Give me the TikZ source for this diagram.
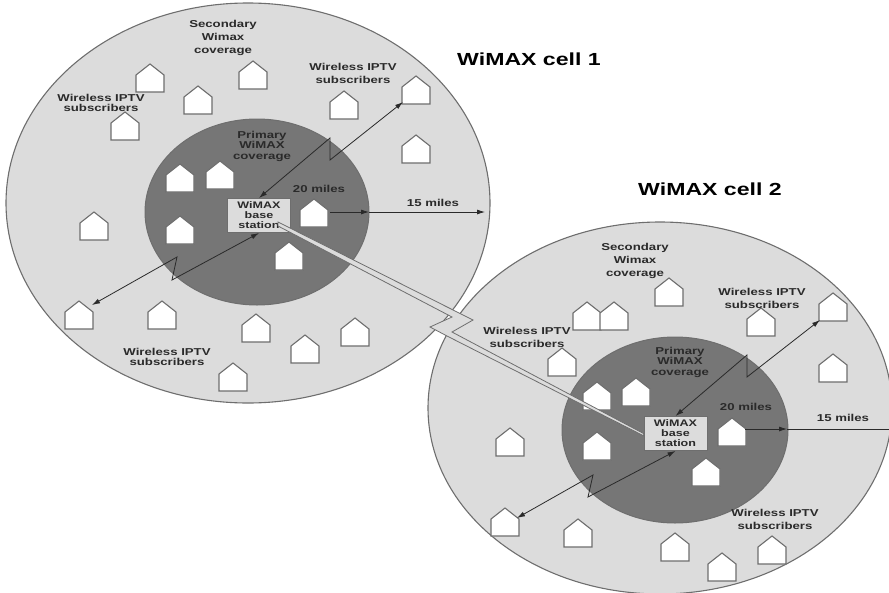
\documentclass[tikz,border=0pt]{standalone}
\usepackage{fontspec}
\setmainfont{Liberation Sans}
\newfontfamily\widesans[FakeStretch=1.32]{Liberation Sans}
\usetikzlibrary{arrows.meta}
\definecolor{cellgray}{HTML}{DCDCDC}
\definecolor{coregray}{HTML}{767676}
\definecolor{edgegray}{HTML}{6E6E6E}
\definecolor{inkgray}{HTML}{2A2A2A}
\tikzset{
  x=1pt,y=-1pt,
  cell/.style={draw=edgegray,line width=1.1pt,fill=cellgray},
  core/.style={draw=edgegray,line width=1pt,fill=coregray},
  lbl/.style={font=\widesans\fontsize{10}{13}\selectfont\bfseries,text=inkgray,align=center,inner sep=0pt},
  tight/.style={font=\widesans\fontsize{10}{10.5}\selectfont\bfseries},
  title/.style={font=\widesans\fontsize{17.5}{20}\selectfont\bfseries,text=black,inner sep=0pt},
  basebox/.style={draw=edgegray,line width=1pt,fill=cellgray,minimum width=63pt,minimum height=34pt,inner sep=0pt,
     font=\widesans\fontsize{9.5}{10}\selectfont\bfseries,text=inkgray,align=center},
  housepath/.style={draw=edgegray,line width=1.1pt,fill=white,line join=miter},
  link/.style={draw=inkgray,line width=.8pt},
  linkarrow/.style={link,-{Latex[length=8pt,width=5pt]}},
  linkboth/.style={link,{Latex[length=8pt,width=5pt]}-{Latex[length=8pt,width=5pt]}},
  backhaul/.style={draw=edgegray,line width=.8pt,fill=cellgray,line join=miter},
  house/.pic={\path[housepath] (-14,14) -- (-14,-3) -- (0,-14) -- (14,-3) -- (14,14) -- cycle;}
}
\begin{document}
\begin{tikzpicture}
\useasboundingbox (0,0) rectangle (889,592);
\path[cell] (248,203) ellipse [x radius=242,y radius=200];
\begin{scope}
\clip (0,0) rectangle (889,592);
\path[cell] (660,408) ellipse [x radius=232,y radius=186];
\end{scope}
\path[core] (257,212) ellipse [x radius=112,y radius=93];
\path[core] (675,430) ellipse [x radius=113,y radius=93];

\foreach \hx/\hy in {150/78,253/75,198/100,125/126,344/105,416/90,416/149,180/178,220/175,180/230,314/213,289/256,94/226,79/315,162/315,256/328,305/349,355/332,233/377,
  587/316,614/316,669/292,761/322,833/307,833/368,562/362,597/396,636/392,597/446,732/432,706/472,510/442,505/522,578/533,675/547,772/550,722/567}
  {\pic at (\hx,\hy) {house};}

\node[basebox] (bs1) at (259,215.5) {WiMAX\\base\\station};
\node[basebox] (bs2) at (675.5,433.5) {WiMAX\\base\\station};

\coordinate (k1) at (330,138);
\coordinate (k2) at (330,160);
\coordinate (h1) at (403,102);
\coordinate (k3) at (172,280);
\coordinate (k4) at (177,257);
\coordinate (h2) at (92,305);
\coordinate (r1) at (330,212);
\coordinate (r2) at (369,212);
\coordinate (r3) at (485,212);
\draw[linkboth] (h1) -- (k2) -- (k1) -- (bs1.north);
\draw[linkboth] (h2) -- (k4) -- (k3) -- (bs1.south);
\draw[linkarrow] (r1) -- (r2);
\draw[linkarrow] (r2) -- (r3);

\coordinate (m1) at (747,355);
\coordinate (m2) at (747,377);
\coordinate (h3) at (820,320);
\coordinate (m3) at (588,497);
\coordinate (m4) at (593,475);
\coordinate (h4) at (517,518);
\coordinate (s1) at (745,429);
\coordinate (s2) at (787,429);
\coordinate (s3) at (889,429);
\draw[linkboth] (h3) -- (m2) -- (m1) -- (bs2.north);
\draw[linkboth] (h4) -- (m4) -- (m3) -- (bs2.south);
\draw[linkarrow] (s1) -- (s2);
\draw[link] (s2) -- (s3);

\coordinate (z1) at (473,320);
\coordinate (z2) at (452,332);
\coordinate (z3) at (430,327);
\coordinate (z4) at (452,317);
\path[backhaul] (278,222) -- (z1) -- (z2) -- (bs2.west) -- (644,436) -- (447,336) -- (z3) -- (z4) -- (278,226) -- cycle;

\node[lbl] (t1) at (223,38) {Secondary\\Wimax\\coverage};
\node[lbl] (t2) at (353,73) {Wireless IPTV\\subscribers};
\node[lbl,tight] (t3) at (101,103) {Wireless IPTV\\subscribers};
\node[lbl,tight] (t4) at (262,146) {Primary\\WiMAX\\coverage};
\node[lbl] (t5) at (319,189) {20 miles};
\node[lbl] (t6) at (433,203) {15 miles};
\node[lbl,tight] (t7) at (167,357) {Wireless IPTV\\subscribers};
\node[lbl] (t8) at (635,261) {Secondary\\Wimax\\coverage};
\node[lbl] (t9) at (762,298) {Wireless IPTV\\subscribers};
\node[lbl] (t10) at (527,337) {Wireless IPTV\\subscribers};
\node[lbl,tight] (t11) at (680,362) {Primary\\WiMAX\\coverage};
\node[lbl] (t12) at (746,407) {20 miles};
\node[lbl] (t13) at (843,418) {15 miles};
\node[lbl] (t14) at (775,519) {Wireless IPTV\\subscribers};
\node[title] (c1) at (529,59) {WiMAX cell 1};
\node[title] (c2) at (710,189) {WiMAX cell 2};
\end{tikzpicture}
\end{document}
